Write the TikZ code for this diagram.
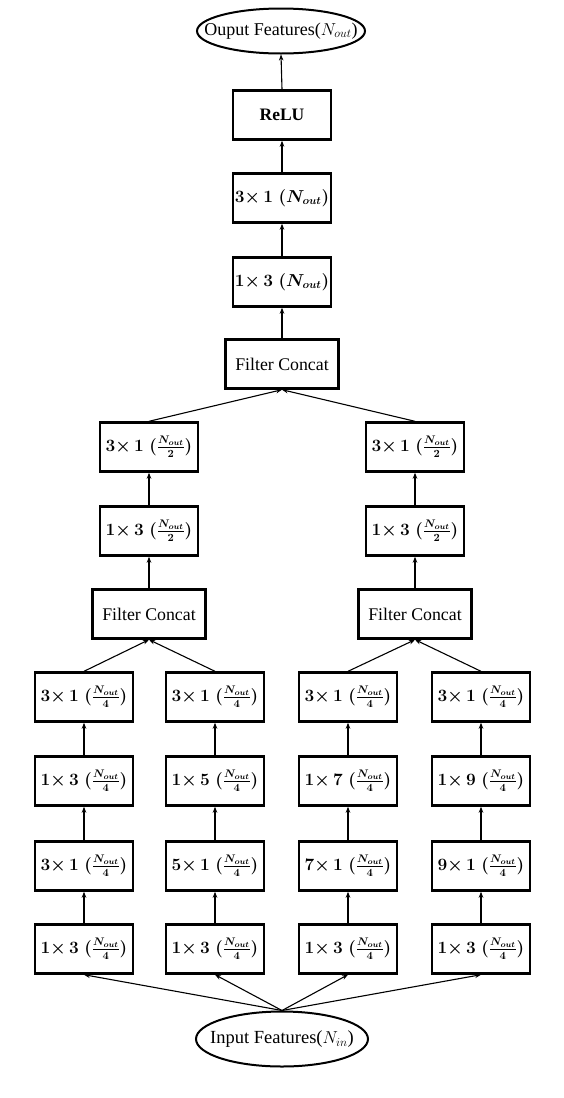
\documentclass[tikz,border=0pt]{standalone}
\usepackage[no-math]{fontspec}
\setmainfont{Liberation Serif}
\usepackage{amsmath}
\usetikzlibrary{arrows.meta,shapes.geometric}
\newcommand{\kl}[3]{{\boldmath$#1{\times}\,#2\;(\frac{N_{out}}{#3})$}}
\newcommand{\kb}[2]{{\boldmath$#1{\times}\,#2\;(N_{out})$}}
\tikzset{
  box/.style={draw, line width=2.4pt, minimum width=98pt, minimum height=49pt, inner sep=0pt, font=\fontsize{16}{19}\selectfont},
  cbox/.style={box, minimum width=113pt, font=\fontsize{17.8}{20}\selectfont},
  oval/.style={draw, ellipse, line width=2pt, inner sep=0pt, font=\fontsize{18}{21}\selectfont},
  arr/.style={line width=1.1pt, -{Stealth[length=6pt,width=4.5pt]}},
}
\begin{document}
\begin{tikzpicture}[x=1pt,y=-1pt]
\useasboundingbox (0,0) rectangle (564,1098);
% top
\node[oval, minimum width=168pt, minimum height=45pt] (out) at (281,31) {\makebox[110pt]{Ouput Features($N_{out}$)}};
\node[box, font=\fontsize{17.5}{20}\selectfont] (relu) at (282,115) {\textbf{ReLU}};
\node[box] (t31) at (282,198) {\kb{3}{1}};
\node[box] (t13) at (282,282) {\kb{1}{3}};
\node[cbox] (cc) at (282,364) {Filter Concat};
% halves
\node[box] (l31) at (149,447) {\kl{3}{1}{2}};
\node[box] (l13) at (149,531) {\kl{1}{3}{2}};
\node[cbox] (lc) at (149,614) {Filter Concat};
\node[box] (r31) at (415,447) {\kl{3}{1}{2}};
\node[box] (r13) at (415,531) {\kl{1}{3}{2}};
\node[cbox] (rc) at (415,614) {Filter Concat};
% column 1
\node[box] (a4) at (84,697) {\kl{3}{1}{4}};
\node[box] (a3) at (84,781) {\kl{1}{3}{4}};
\node[box] (a2) at (84,866) {\kl{3}{1}{4}};
\node[box] (a1) at (84,949) {\kl{1}{3}{4}};
% column 2
\node[box] (b4) at (215,697) {\kl{3}{1}{4}};
\node[box] (b3) at (215,781) {\kl{1}{5}{4}};
\node[box] (b2) at (215,866) {\kl{5}{1}{4}};
\node[box] (b1) at (215,949) {\kl{1}{3}{4}};
% column 3
\node[box] (c4) at (348,697) {\kl{3}{1}{4}};
\node[box] (c3) at (348,781) {\kl{1}{7}{4}};
\node[box] (c2) at (348,866) {\kl{7}{1}{4}};
\node[box] (c1) at (348,949) {\kl{1}{3}{4}};
% column 4
\node[box] (d4) at (481,697) {\kl{3}{1}{4}};
\node[box] (d3) at (481,781) {\kl{1}{9}{4}};
\node[box] (d2) at (481,866) {\kl{9}{1}{4}};
\node[box] (d1) at (481,949) {\kl{1}{3}{4}};
% input
\node[oval, minimum width=172pt, minimum height=55pt, font=\fontsize{18.5}{21}\selectfont] (in) at (282,1039) {\makebox[112pt]{Input Features($N_{in}$)}};
% connectors
\foreach \c in {a,b,c,d}{
  \draw[arr] (\c1.north) -- (\c2.south);
  \draw[arr] (\c2.north) -- (\c3.south);
  \draw[arr] (\c3.north) -- (\c4.south);
  \draw[arr] (in.north) -- (\c1.south);
}
\draw[arr] (a4.north) -- (lc.south);
\draw[arr] (b4.north) -- (lc.south);
\draw[arr] (c4.north) -- (rc.south);
\draw[arr] (d4.north) -- (rc.south);
\draw[arr] (lc.north) -- (l13.south);
\draw[arr] (l13.north) -- (l31.south);
\draw[arr] (rc.north) -- (r13.south);
\draw[arr] (r13.north) -- (r31.south);
\draw[arr] (l31.north) -- (cc.south);
\draw[arr] (r31.north) -- (cc.south);
\draw[arr] (cc.north) -- (t13.south);
\draw[arr] (t13.north) -- (t31.south);
\draw[arr] (t31.north) -- (relu.south);
\draw[arr] (relu.north) -- (out.south);
\end{tikzpicture}
\end{document}
